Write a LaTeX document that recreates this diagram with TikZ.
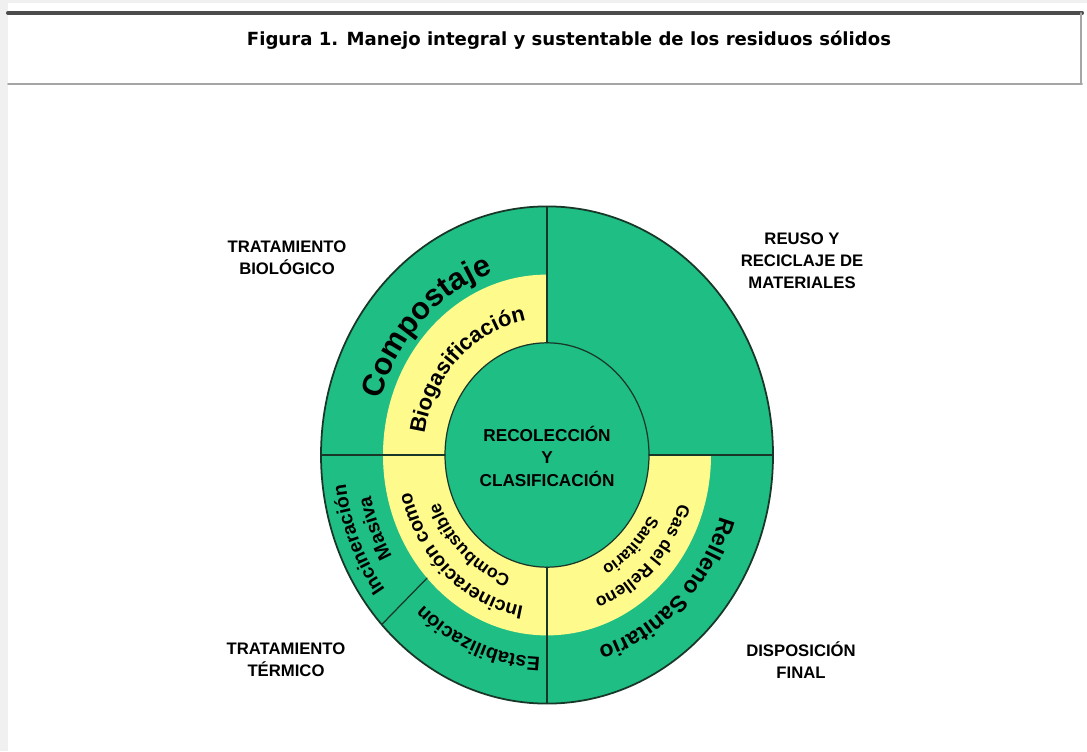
\documentclass[tikz,border=0pt]{standalone}
\usepackage{fontspec}
\setmainfont{Liberation Sans}
\newfontfamily\titlefont{DejaVu Sans}
\usetikzlibrary{decorations.text}
\definecolor{ringgreen}{RGB}{30,190,132}
\definecolor{ringyellow}{RGB}{255,250,140}
\definecolor{ringline}{RGB}{25,55,40}
\newcommand\arcfont[1]{\fontsize{#1}{#1}\selectfont\bfseries}
\begin{document}
\begin{tikzpicture}[x=0.02cm,y=0.02cm,line join=round,line cap=round]
	\tikzset{every node/.style={inner sep=0pt},
		quadlabel/.style={align=center,font=\fontsize{9.5}{12.8}\selectfont\bfseries},
		arctext/.style={decorate,decoration={text along path,text align=center,text={#1}}}}
	\useasboundingbox (0,0) rectangle (1087,751);
	\fill[gray!12] (0,0) rectangle (1087,751);
	\fill[white] (8,0) rectangle (1087,748);
	% title box
	\draw[line width=2.3pt,black!70] (8,738)--(1082,738);
	\draw[line width=1.1pt,gray!70] (8,667)--(1082,667);
	\draw[line width=1.1pt,gray!70] (1081,738)--(1081,667);
	\node[font=\titlefont\fontsize{10.3}{12}\selectfont\bfseries] (titulo) at (569,711) {Figura 1. Manejo integral y sustentable de los residuos sólidos};
	% labels
	\node[quadlabel] (biologico) at (287,493) {TRATAMIENTO\\BIOLÓGICO};
	\node[quadlabel,font=\fontsize{9.5}{12.4}\selectfont\bfseries] (reuso) at (802,490) {REUSO Y\\RECICLAJE DE\\MATERIALES};
	\node[quadlabel] (termico) at (286,91) {TRATAMIENTO\\TÉRMICO};
	\node[quadlabel] (disposicion) at (801,91) {DISPOSICIÓN\\FINAL};
	\begin{scope}[shift={(547,296)}]
		\fill[ringgreen] (0,0) ellipse [x radius=226,y radius=248.6];
		\fill[ringyellow] (90:164 and 180.4) arc[start angle=90,end angle=360,x radius=164,y radius=180.4]
			--(0:102 and 112.2) arc[start angle=360,end angle=90,x radius=102,y radius=112.2]--cycle;
		\draw[ringline,line width=1pt] (0,0) ellipse [x radius=226,y radius=248.6];
		\draw[ringline,line width=0.7pt] (0,0) ellipse [x radius=102,y radius=112.2];
		\foreach \a in {0,90,180,270}
			\draw[ringline,line width=0.7pt] (\a:102 and 112.2)--(\a:226 and 248.6);
		\draw[ringline,line width=0.7pt] (223:164 and 180.4)--(223:226 and 248.6);
		\node[quadlabel,font=\fontsize{9.8}{12.8}\selectfont\bfseries] (recoleccion) at (0,-1) {RECOLECCIÓN\\Y\\CLASIFICACIÓN};
		% texts along the rings
		\path[arctext={|\arcfont{17.5}|Compostaje}] (178:174 and 191.4) arc[start angle=178,end angle=92,x radius=174,y radius=191.4];
		\path[arctext={|\arcfont{12.5}|Biogasificación}] (178:124 and 136.4) arc[start angle=178,end angle=92,x radius=124,y radius=136.4];
		\path[arctext={|\arcfont{11}|Incineración}] (226:203 and 223.3) arc[start angle=226,end angle=179,x radius=203,y radius=223.3];
		\path[arctext={|\arcfont{11}|Masiva}] (226:180 and 198) arc[start angle=226,end angle=177,x radius=180,y radius=198];
		\path[arctext={|\arcfont{11.2}|Estabilización}] (275:184 and 202.4) arc[start angle=275,end angle=221,x radius=184,y radius=202.4];
		\path[arctext={|\arcfont{11}|Incineración como}] (270:140 and 154) arc[start angle=270,end angle=185,x radius=140,y radius=154];
		\path[arctext={|\arcfont{10}|Combustible}] (268:116 and 127.6) arc[start angle=268,end angle=187,x radius=116,y radius=127.6];
		\path[arctext={|\arcfont{10}|Gas del Relleno}] (-2:139 and 152.9) arc[start angle=-2,end angle=-88,x radius=139,y radius=152.9];
		\path[arctext={|\arcfont{9.5}|Sanitario}] (-4:116 and 127.6) arc[start angle=-4,end angle=-88,x radius=116,y radius=127.6];
		\path[arctext={|\arcfont{13}|Relleno Sanitario}] (-2:182 and 200.2) arc[start angle=-2,end angle=-91,x radius=182,y radius=200.2];
	\end{scope}
\end{tikzpicture}
\end{document}
